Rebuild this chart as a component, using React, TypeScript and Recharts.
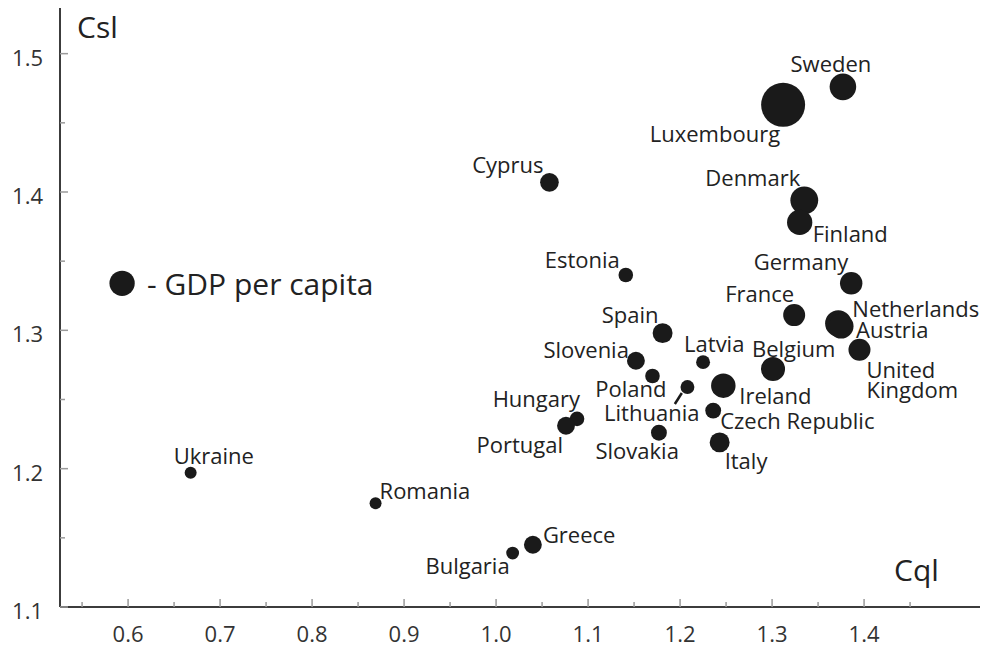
import React from "react";
import { ScatterChart, Scatter, XAxis, YAxis, ZAxis, LabelList } from "recharts";

const countries = [
  "Sweden", "Luxembourg", "Denmark", "Finland", "Cyprus", "Estonia", "Germany",
  "France", "Netherlands", "Austria", "United Kingdom", "Spain", "Slovenia",
  "Latvia", "Belgium", "Poland", "Lithuania", "Ireland", "Czech Republic",
  "Hungary", "Portugal", "Slovakia", "Italy", "Ukraine", "Romania", "Greece",
  "Bulgaria",
];

// Cql (x) and Csl (y) per country
const cql = [
  1.377, 1.312, 1.335, 1.33, 1.058, 1.141, 1.386,
  1.324, 1.372, 1.375, 1.395, 1.181, 1.152,
  1.225, 1.301, 1.17, 1.208, 1.247, 1.236,
  1.088, 1.076, 1.177, 1.243, 0.668, 0.869, 1.04,
  1.018,
];
const csl = [
  1.476, 1.463, 1.394, 1.378, 1.407, 1.34, 1.334,
  1.311, 1.305, 1.303, 1.286, 1.298, 1.278,
  1.277, 1.272, 1.267, 1.259, 1.26, 1.242,
  1.236, 1.231, 1.226, 1.219, 1.197, 1.175, 1.145,
  1.139,
];
// relative GDP per capita, drives bubble area
const gdp = [
  36.5, 100, 40, 33, 18, 11, 26,
  25, 36, 32, 25, 20.5, 16.5,
  10, 30, 11, 10, 31, 13,
  11, 16.5, 13, 20.5, 7.4, 7.4, 16.5,
  8.5,
];

const legendPoint = [{ name: "- GDP per capita", cql: 0.5935, csl: 1.334, gdp: 33 }];

const xTicks = [0.55, 0.6, 0.65, 0.7, 0.75, 0.8, 0.85, 0.9, 0.95, 1.0, 1.05, 1.1, 1.15, 1.2, 1.25, 1.3, 1.35, 1.4, 1.45];
const yTicks = [1.1, 1.15, 1.2, 1.25, 1.3, 1.35, 1.4, 1.45, 1.5];

const points = countries.map((name, i) => ({ name, cql: cql[i], csl: csl[i], gdp: gdp[i] }));

type Placement = { anchor: "start" | "middle" | "end"; dx: number; dy: number; leader?: number[] };

// label offsets from the bubble centre (px)
const placement: Record<string, Placement> = {
  Sweden: { anchor: "middle", dx: -12, dy: -15 },
  Luxembourg: { anchor: "end", dx: -3, dy: 37 },
  Denmark: { anchor: "end", dx: -4, dy: -14 },
  Finland: { anchor: "start", dx: 13, dy: 20 },
  Cyprus: { anchor: "end", dx: -6, dy: -9 },
  Estonia: { anchor: "end", dx: -6, dy: -7 },
  Germany: { anchor: "end", dx: -3, dy: -13 },
  France: { anchor: "end", dx: 0, dy: -13 },
  Netherlands: { anchor: "start", dx: 14, dy: -6 },
  Austria: { anchor: "start", dx: 15, dy: 12 },
  "United Kingdom": { anchor: "start", dx: 7, dy: 28 },
  Spain: { anchor: "end", dx: -4, dy: -10 },
  Slovenia: { anchor: "end", dx: -7, dy: -3 },
  Latvia: { anchor: "start", dx: -19, dy: -10 },
  Belgium: { anchor: "start", dx: -21, dy: -12 },
  Poland: { anchor: "end", dx: 14, dy: 21 },
  Lithuania: { anchor: "end", dx: 12, dy: 34, leader: [-12.6, 17, -5.6, 6] },
  Ireland: { anchor: "start", dx: 16, dy: 18 },
  "Czech Republic": { anchor: "start", dx: 7, dy: 18 },
  Hungary: { anchor: "end", dx: 3, dy: -12 },
  Portugal: { anchor: "end", dx: -3, dy: 27 },
  Slovakia: { anchor: "end", dx: 20, dy: 26 },
  Italy: { anchor: "start", dx: 5, dy: 27 },
  Ukraine: { anchor: "start", dx: -17, dy: -9 },
  Romania: { anchor: "start", dx: 4, dy: -4 },
  Greece: { anchor: "start", dx: 10, dy: -2 },
  Bulgaria: { anchor: "end", dx: -3, dy: 21 },
};

const FONT = "'Open Sans', sans-serif";
const isMajor = (v: number) => Math.abs(Math.round(v * 10) - v * 10) < 1e-6;

const XTick = (props: any) => {
  const { x, y, payload } = props;
  const major = isMajor(payload.value);
  return (
    <g>
      <line x1={x} x2={x} y1={y} y2={y - (major ? 8 : 5)} stroke="#9a9a9a" strokeWidth={1.5} />
      {major && (
        <text x={x} y={y + 35} textAnchor="middle" fontSize={22} fontFamily={FONT} fill="#333">
          {payload.value.toFixed(1)}
        </text>
      )}
    </g>
  );
};

const YTick = (props: any) => {
  const { x, y, payload } = props;
  const major = isMajor(payload.value);
  return (
    <g>
      <line x1={x} x2={x + (major ? 8 : 5)} y1={y} y2={y} stroke="#9a9a9a" strokeWidth={1.5} />
      {major && (
        <text x={x - 17} y={y + 12} textAnchor="end" fontSize={22} fontFamily={FONT} fill="#333">
          {payload.value.toFixed(1)}
        </text>
      )}
    </g>
  );
};

const centreOf = (props: any) => {
  const vb = props.viewBox && props.viewBox.width != null ? props.viewBox : props;
  return { cx: vb.x + vb.width / 2, cy: vb.y + vb.height / 2 };
};

const CountryLabel = (props: any) => {
  const name: string = props.value ?? countries[props.index];
  const p = placement[name];
  if (!p) return null;
  const { cx, cy } = centreOf(props);
  const lines = name === "United Kingdom" ? ["United", "Kingdom"] : [name];
  return (
    <g>
      {p.leader && (
        <line
          x1={cx + p.leader[0]}
          y1={cy + p.leader[1]}
          x2={cx + p.leader[2]}
          y2={cy + p.leader[3]}
          stroke="#1a1a1a"
          strokeWidth={2.5}
        />
      )}
      <text x={cx + p.dx} y={cy + p.dy} textAnchor={p.anchor} fontSize={22} fontFamily={FONT} fill="#222">
        {lines.map((l, i) => (
          <tspan key={l} x={cx + p.dx} dy={i === 0 ? 0 : 20}>
            {l}
          </tspan>
        ))}
      </text>
    </g>
  );
};

const LegendLabel = (props: any) => {
  const { cx, cy } = centreOf(props);
  return (
    <text x={cx + 25} y={cy + 12} fontSize={30} fontFamily={FONT} fill="#222">
      {props.value}
    </text>
  );
};

export default function App() {
  return (
    <div style={{ position: "absolute", left: 0, top: 0, background: "#fff" }}>
      <ScatterChart width={989} height={649} margin={{ top: 8, right: 9, bottom: 0, left: 0 }}>
        <XAxis
          type="number"
          dataKey="cql"
          domain={[0.526, 1.526]}
          ticks={xTicks}
          interval={0}
          height={42}
          tickSize={0}
          tickMargin={0}
          tickLine={false}
          tick={<XTick />}
          axisLine={{ stroke: "#3c3c3c", strokeWidth: 2 }}
          allowDataOverflow
        />
        <YAxis
          type="number"
          dataKey="csl"
          domain={[1.1, 1.533]}
          ticks={yTicks}
          interval={0}
          width={60}
          tickSize={0}
          tickMargin={0}
          tickLine={false}
          tick={<YTick />}
          axisLine={{ stroke: "#3c3c3c", strokeWidth: 2 }}
          allowDataOverflow
        />
        <ZAxis type="number" dataKey="gdp" domain={[0, 100]} range={[0, 1520]} />
        <Scatter data={points} fill="#1a1a1a" isAnimationActive={false}>
          <LabelList dataKey="name" content={<CountryLabel />} />
        </Scatter>
        <Scatter data={legendPoint} fill="#1a1a1a" isAnimationActive={false}>
          <LabelList dataKey="name" content={<LegendLabel />} />
        </Scatter>
        <text x={77} y={38} fontSize={30} fontFamily={FONT} fill="#222">
          Csl
        </text>
        <text x={894} y={581} fontSize={30} fontFamily={FONT} fill="#222">
          Cql
        </text>
      </ScatterChart>
    </div>
  );
}
